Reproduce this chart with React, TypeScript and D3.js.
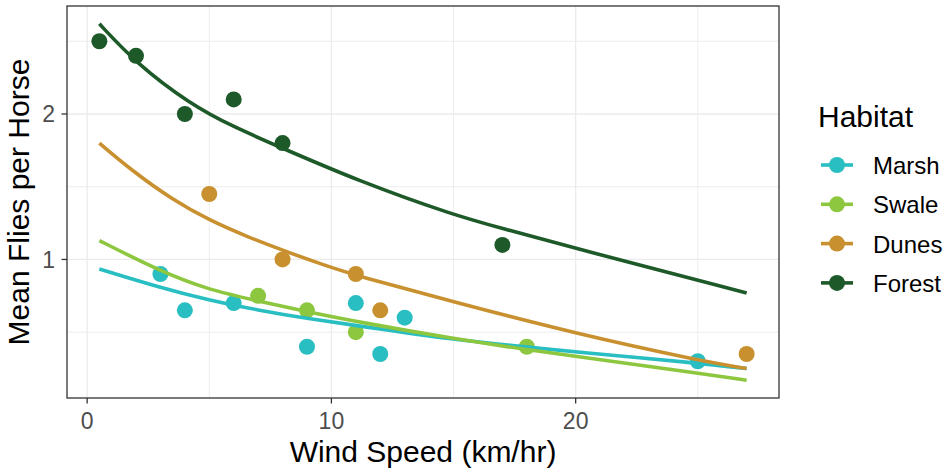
import React from 'react';
import * as d3 from 'd3';

// habitats, in legend order
const habitats = ['Marsh', 'Swale', 'Dunes', 'Forest'];
const habitatColors = ['#29BEC2', '#8DC63F', '#C8902F', '#1E5A29'];

// observed means
const marshWind = [3, 4, 6, 9, 11, 12, 13, 25];
const marshFlies = [0.9, 0.65, 0.7, 0.4, 0.7, 0.35, 0.6, 0.3];
const swaleWind = [7, 9, 11, 18];
const swaleFlies = [0.75, 0.65, 0.5, 0.4];
const dunesWind = [5, 8, 11, 12, 27];
const dunesFlies = [1.45, 1.0, 0.9, 0.65, 0.35];
const forestWind = [0.5, 2, 4, 6, 8, 17];
const forestFlies = [2.5, 2.4, 2.0, 2.1, 1.8, 1.1];

// fitted curves
const marshFitWind = [0.5, 2.9, 5, 7, 9, 11.4, 15, 18, 20, 25, 27];
const marshFitFlies = [0.935, 0.811, 0.72, 0.651, 0.594, 0.536, 0.449, 0.398, 0.364, 0.288, 0.25];
const swaleFitWind = [0.5, 2.9, 5, 7, 9, 11.2, 15, 18, 20, 25, 27];
const swaleFitFlies = [1.13, 0.926, 0.789, 0.715, 0.64, 0.567, 0.455, 0.38, 0.335, 0.218, 0.17];
const dunesFitWind = [0.5, 1.8, 3.5, 5, 6.5, 8, 9.7, 11, 15, 20, 25, 27];
const dunesFitFlies = [1.8, 1.615, 1.41, 1.27, 1.16, 1.063, 0.961, 0.89, 0.708, 0.49, 0.307, 0.25];
const forestFitWind = [0.5, 2, 4.2, 6, 8, 11.1, 15, 17, 20, 27];
const forestFitFlies = [2.62, 2.35, 2.07, 1.91, 1.765, 1.54, 1.305, 1.213, 1.076, 0.77];

const xTicks = [0, 10, 20];
const xMinor = [5, 15, 25];
const yTicks = [1, 2];
const yMinor = [0.5, 1.5, 2.5];

type Pt = { x: number; y: number };
const zip = (xs: number[], ys: number[]): Pt[] => xs.map((x, i) => ({ x, y: ys[i] }));

const points = [
  zip(marshWind, marshFlies),
  zip(swaleWind, swaleFlies),
  zip(dunesWind, dunesFlies),
  zip(forestWind, forestFlies),
];
const fits = [
  zip(marshFitWind, marshFitFlies),
  zip(swaleFitWind, swaleFitFlies),
  zip(dunesFitWind, dunesFitFlies),
  zip(forestFitWind, forestFitFlies),
];

const font = '"Liberation Sans", Arial, Helvetica, sans-serif';

const expand = (lo: number, hi: number): [number, number] => {
  const pad = (hi - lo) * 0.05;
  return [lo - pad, hi + pad];
};

const App: React.FC = () => {
  const width = 950;
  const height = 472;
  const panel = { left: 67, top: 6, right: 779, bottom: 398 };

  const all = [...points.flat(), ...fits.flat()];
  const x = d3.scaleLinear()
    .domain(expand(d3.min(all, d => d.x)!, d3.max(all, d => d.x)!))
    .range([panel.left, panel.right]);
  const y = d3.scaleLinear()
    .domain(expand(d3.min(all, d => d.y)!, d3.max(all, d => d.y)!))
    .range([panel.bottom, panel.top]);

  // smooth through the read-off points
  const line = d3.line<Pt>()
    .x(d => x(d.x))
    .y(d => y(d.y))
    .curve(d3.curveBasis);

  const legendX = 821;
  const legendY = 165;
  const legendStep = 39.3;

  return (
    <svg width={width} height={height} style={{ position: 'absolute', left: 0, top: 0 }}
      fontFamily={font}>
      <rect x={0} y={0} width={width} height={height} fill="white" />

      {/* grid */}
      {xMinor.map(t => (
        <line key={'xm' + t} x1={x(t)} x2={x(t)} y1={panel.top} y2={panel.bottom}
          stroke="#EBEBEB" strokeWidth={0.9} />
      ))}
      {yMinor.map(t => (
        <line key={'ym' + t} x1={panel.left} x2={panel.right} y1={y(t)} y2={y(t)}
          stroke="#EBEBEB" strokeWidth={0.9} />
      ))}
      {xTicks.map(t => (
        <line key={'xg' + t} x1={x(t)} x2={x(t)} y1={panel.top} y2={panel.bottom}
          stroke="#EBEBEB" strokeWidth={1.3} />
      ))}
      {yTicks.map(t => (
        <line key={'yg' + t} x1={panel.left} x2={panel.right} y1={y(t)} y2={y(t)}
          stroke="#EBEBEB" strokeWidth={1.3} />
      ))}

      {/* points */}
      {points.map((pts, i) => pts.map((p, j) => (
        <circle key={`p${i}-${j}`} cx={x(p.x)} cy={y(p.y)} r={8} fill={habitatColors[i]} />
      )))}

      {/* fitted lines */}
      {fits.map((f, i) => (
        <path key={'f' + i} d={line(f) || ''} fill="none" stroke={habitatColors[i]}
          strokeWidth={3.6} />
      ))}

      {/* panel border */}
      <rect x={panel.left} y={panel.top} width={panel.right - panel.left}
        height={panel.bottom - panel.top} fill="none" stroke="#333333" strokeWidth={1.3} />

      {/* x axis */}
      {xTicks.map(t => (
        <g key={'xt' + t}>
          <line x1={x(t)} x2={x(t)} y1={panel.bottom} y2={panel.bottom + 5.5}
            stroke="#333333" strokeWidth={1.3} />
          <text x={x(t)} y={428.5} textAnchor="middle" fontSize={23} fill="#4D4D4D">{t}</text>
        </g>
      ))}
      {/* y axis */}
      {yTicks.map(t => (
        <g key={'yt' + t}>
          <line x1={panel.left - 5.5} x2={panel.left} y1={y(t)} y2={y(t)}
            stroke="#333333" strokeWidth={1.3} />
          <text x={55} y={y(t)} dy="0.36em" textAnchor="end" fontSize={23} fill="#4D4D4D">{t}</text>
        </g>
      ))}

      <text x={(panel.left + panel.right) / 2} y={462} textAnchor="middle" fontSize={30}
        fill="black">Wind Speed (km/hr)</text>
      <text transform={`translate(29,${(panel.top + panel.bottom) / 2}) rotate(-90)`}
        textAnchor="middle" fontSize={30} fill="black">Mean Flies per Horse</text>

      {/* legend */}
      <text x={818} y={127} fontSize={30} fill="black">Habitat</text>
      {habitats.map((h, i) => {
        const cy = legendY + i * legendStep;
        return (
          <g key={h}>
            <line x1={legendX} x2={legendX + 32} y1={cy} y2={cy}
              stroke={habitatColors[i]} strokeWidth={3.6} />
            <circle cx={legendX + 16} cy={cy} r={8} fill={habitatColors[i]} />
            <text x={873} y={cy} dy="0.38em" fontSize={24} fill="black">{h}</text>
          </g>
        );
      })}
    </svg>
  );
};

export default App;
